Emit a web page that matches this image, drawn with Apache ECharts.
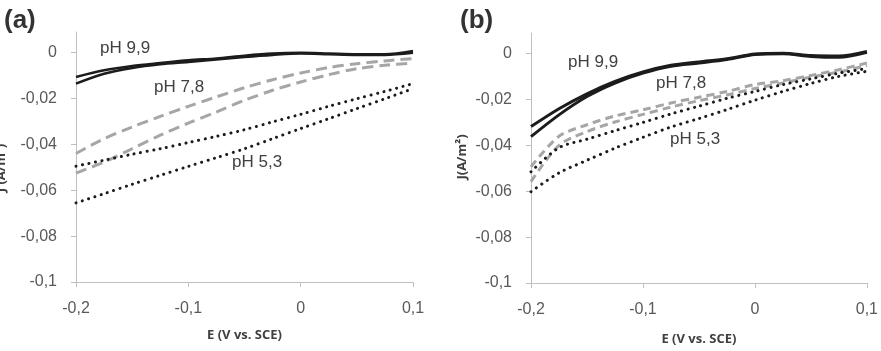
<!DOCTYPE html>
<html>
<head>
<meta charset="utf-8">
<script src="https://cdn.jsdelivr.net/npm/echarts@6/dist/echarts.min.js"></script>
<style>
  html, body { margin: 0; padding: 0; background: #fff; }
  #chart { width: 881px; height: 351px; }
</style>
</head>
<body>
<div id="chart"></div>
<script>
// potential (V vs. SCE) sampled along each voltammogram branch
const E = [-0.2, -0.175, -0.15, -0.125, -0.1, -0.075, -0.05, -0.025, 0, 0.025, 0.05, 0.075, 0.1];
const yTicks = [-0.1, -0.08, -0.06, -0.04, -0.02, 0];
const xTicks = [-0.2, -0.1, 0, 0.1];

// panel (a)
const a_pH99_1 = [-0.0106, -0.0077, -0.0058, -0.0045, -0.0033, -0.0025, -0.0013, -0.0004, -0.0001, -0.0004, -0.0007, -0.0007, 0.0007];
const a_pH99_2 = [-0.0135, -0.0092, -0.0067, -0.0051, -0.0041, -0.0030, -0.0019, -0.0010, -0.0004, -0.0007, -0.0010, -0.0010, -0.0001];
const a_pH78_1 = [-0.0440, -0.0375, -0.0324, -0.0278, -0.0234, -0.0193, -0.0153, -0.0118, -0.0089, -0.0065, -0.0048, -0.0036, -0.0026];
const a_pH78_2 = [-0.0525, -0.0477, -0.0419, -0.0360, -0.0307, -0.0259, -0.0208, -0.0164, -0.0128, -0.0096, -0.0070, -0.0055, -0.0045];
const a_pH53_1 = [-0.0495, -0.0469, -0.0443, -0.0419, -0.0392, -0.0365, -0.0336, -0.0302, -0.0269, -0.0234, -0.0201, -0.0169, -0.0135];
const a_pH53_2 = [-0.0655, -0.0615, -0.0574, -0.0535, -0.0496, -0.0458, -0.0419, -0.0375, -0.0331, -0.0288, -0.0244, -0.0201, -0.0157];

// panel (b)
const b_pH99_1 = [-0.0362, -0.0267, -0.0187, -0.0128, -0.0085, -0.0055, -0.0041, -0.0026, -0.0004, 0.0000, -0.0012, -0.0016, 0.0006];
const b_pH99_2 = [-0.0318, -0.0240, -0.0175, -0.0121, -0.0080, -0.0051, -0.0036, -0.0022, -0.0002, 0.0002, -0.0008, -0.0010, 0.0010];
const b_pH78_1 = [-0.0493, -0.0360, -0.0310, -0.0272, -0.0245, -0.0215, -0.0190, -0.0165, -0.0135, -0.0118, -0.0095, -0.0070, -0.0041];
const b_pH78_2 = [-0.0558, -0.0400, -0.0340, -0.0298, -0.0265, -0.0233, -0.0205, -0.0180, -0.0152, -0.0128, -0.0102, -0.0080, -0.0052];
const b_pH53_1 = [-0.0515, -0.0410, -0.0373, -0.0336, -0.0300, -0.0263, -0.0229, -0.0195, -0.0165, -0.0135, -0.0110, -0.0085, -0.0065];
const b_pH53_2 = [-0.0602, -0.0520, -0.0465, -0.0412, -0.0365, -0.0320, -0.0283, -0.0244, -0.0203, -0.0165, -0.0130, -0.0099, -0.0077];

const axisGrey = '#bfbfbf';
const labelGrey = '#595959';
const comma = v => String(+v.toFixed(3)).replace('.', ',');

function pts(ys) {
  return E.map((x, i) => [x, ys[i]]);
}

function xAx(idx) {
  return {
    type: 'value', gridIndex: idx, min: -0.2, max: 0.1, interval: 0.1,
    name: 'E (V vs. SCE)', nameLocation: 'middle', nameGap: idx ? 50 : 47,
    nameTextStyle: { fontFamily: 'Open Sans', fontWeight: 'bold', fontSize: 13, color: '#404040' },
    axisLine: { onZero: false, lineStyle: { color: axisGrey, width: 1 } },
    axisTick: { show: true, length: 5, lineStyle: { color: axisGrey } },
    axisLabel: { customValues: xTicks, formatter: comma, color: labelGrey, fontFamily: 'Liberation Sans', fontSize: 16, margin: 19 },
    splitLine: { show: false }
  };
}

function yAx(idx) {
  return {
    type: 'value', gridIndex: idx, min: -0.1, max: 0.009,
    axisLine: { show: true, onZero: false, lineStyle: { color: axisGrey, width: 1 } },
    axisTick: { show: true, length: 5, customValues: yTicks, lineStyle: { color: axisGrey } },
    axisLabel: { customValues: yTicks, formatter: comma, color: labelGrey, fontFamily: 'Liberation Sans', fontSize: 16, margin: 19 },
    splitLine: { show: false }
  };
}

function line(data, idx, kind) {
  const s = {
    type: 'line', xAxisIndex: idx, yAxisIndex: idx, data: pts(data),
    showSymbol: false, smooth: 0.3, silent: true, z: kind === 'solid' ? 4 : 3
  };
  if (kind === 'solid') s.lineStyle = { color: '#1c1c1c', width: idx ? 3 : 2.5 };
  if (kind === 'dash') s.lineStyle = { color: '#a6a6a6', width: 3, type: idx ? [8, 5] : [11, 6] };
  if (kind === 'dot') s.lineStyle = { color: '#1c1c1c', width: 3, type: [0.1, 6.5], cap: 'round' };
  return s;
}

function txt(x, y, text, style) {
  return { type: 'text', x: x, y: y, style: Object.assign({ text: text }, style) };
}

const phStyle = { fill: '#404040', fontFamily: 'Liberation Sans', fontSize: 17, verticalAlign: 'middle' };
const panelStyle = { fill: '#333', fontFamily: 'Liberation Sans', fontWeight: 'bold', fontSize: 26, verticalAlign: 'middle' };
const yNameStyle = { fill: '#404040', fontFamily: 'Open Sans', fontWeight: 'bold', fontSize: 13, align: 'center', verticalAlign: 'middle' };

const chart = echarts.init(document.getElementById('chart'));
chart.setOption({
  animation: false,
  backgroundColor: '#fff',
  grid: [
    { left: 76, right: 468, top: 32, bottom: 69 },
    { left: 531, right: 11, top: 33, bottom: 68 }
  ],
  xAxis: [xAx(0), xAx(1)],
  yAxis: [yAx(0), yAx(1)],
  series: [
    line(a_pH78_1, 0, 'dash'), line(a_pH78_2, 0, 'dash'),
    line(a_pH53_1, 0, 'dot'), line(a_pH53_2, 0, 'dot'),
    line(a_pH99_1, 0, 'solid'), line(a_pH99_2, 0, 'solid'),
    line(b_pH78_1, 1, 'dash'), line(b_pH78_2, 1, 'dash'),
    line(b_pH53_1, 1, 'dot'), line(b_pH53_2, 1, 'dot'),
    line(b_pH99_1, 1, 'solid'), line(b_pH99_2, 1, 'solid')
  ],
  graphic: [
    txt(4, 21, '(a)', panelStyle),
    txt(460, 21, '(b)', panelStyle),
    txt(100, 48, 'pH 9,9', phStyle),
    txt(154, 87, 'pH 7,8', phStyle),
    txt(232, 162, 'pH 5,3', phStyle),
    txt(568, 62, 'pH 9,9', phStyle),
    txt(656, 83, 'pH 7,8', phStyle),
    txt(670, 139, 'pH 5,3', phStyle),
    { type: 'text', x: 1, y: 168, rotation: Math.PI / 2, style: Object.assign({ text: 'J (A/m²)' }, yNameStyle) },
    { type: 'text', x: 462, y: 157, rotation: Math.PI / 2, style: Object.assign({ text: 'J(A/m²)' }, yNameStyle) }
  ]
});
</script>
</body>
</html>
